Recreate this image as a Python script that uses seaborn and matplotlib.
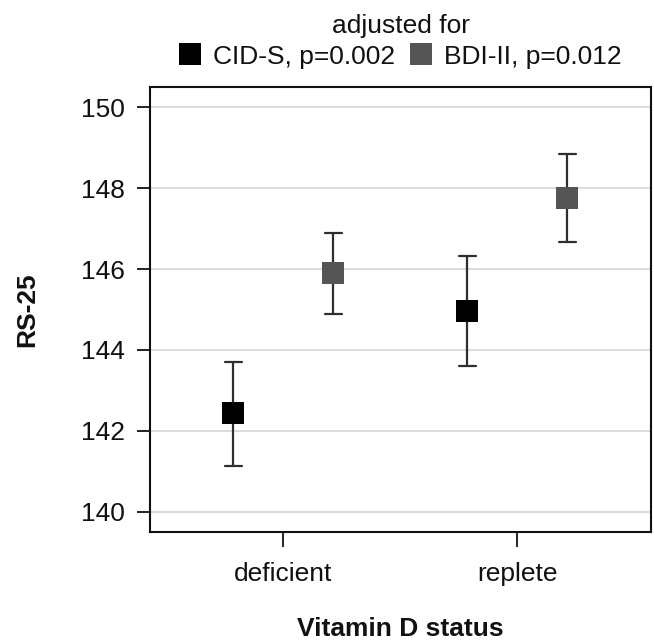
import numpy as np
import pandas as pd
import matplotlib
matplotlib.use("Agg")
import matplotlib.pyplot as plt
from matplotlib.lines import Line2D
import seaborn as sns

# ---- data ----
status = ["deficient", "replete"]
adjustments = ["CID-S, p=0.002", "BDI-II, p=0.012"]
cids_mean = [142.43, 144.96]
cids_low = [141.12, 143.60]
cids_high = [143.71, 146.32]
bdi_mean = [145.90, 147.75]
bdi_low = [144.88, 146.67]
bdi_high = [146.90, 148.84]
yticks = [140, 142, 144, 146, 148, 150]
colors = ["#000000", "#555555"]

# long table: lower / estimate / upper for each group; median = estimate, range = CI
rows = []
for adj, means, lows, highs in [(adjustments[0], cids_mean, cids_low, cids_high),
                                (adjustments[1], bdi_mean, bdi_low, bdi_high)]:
    for s, m, lo, hi in zip(status, means, lows, highs):
        for v in (lo, m, hi):
            rows.append({"Vitamin D status": s, "adjusted for": adj, "RS-25": v})
df = pd.DataFrame(rows)

sns.set_theme(style="white")
plt.rcParams["font.family"] = ["Liberation Sans", "DejaVu Sans"]

fig = plt.figure(figsize=(6.54, 6.42), dpi=100)
ax = fig.add_axes([150 / 654, 110 / 642, 501 / 654, 445 / 642])

sns.pointplot(
    data=df, x="Vitamin D status", y="RS-25", hue="adjusted for",
    order=status, hue_order=adjustments, palette=colors,
    estimator="median", errorbar=lambda v: (v.min(), v.max()),
    dodge=0.428, markers="s", linestyles="none", capsize=0.073,
    err_kws={"color": "#2e2e2e", "linewidth": 1.6, "zorder": 1.5},
    markersize=15.5, markeredgewidth=0, ax=ax, legend=False,
)

ax.set_xlim(-0.570, 1.572)
ax.set_ylim(139.5, 150.5)
ax.set_yticks(yticks)
ax.set_yticklabels([str(t) for t in yticks])
ax.yaxis.grid(True, color="#dcdcdc", linewidth=1.5)
ax.xaxis.grid(False)
ax.set_axisbelow(True)

for sp in ax.spines.values():
    sp.set_visible(True)
    sp.set_color("#111111")
    sp.set_linewidth(1.5)

ax.tick_params(axis="y", which="major", left=True, length=9.4, width=1.3,
               color="#111111", pad=8.6, labelsize=19, labelcolor="#111111")
ax.tick_params(axis="x", which="major", bottom=True, length=10.8, width=1.3,
               color="#111111", pad=11, labelsize=19, labelcolor="#111111")

ax.set_xlabel("Vitamin D status", fontsize=19, fontweight="bold", labelpad=22,
              color="#111111")
ax.set_ylabel("RS-25", fontsize=19, fontweight="bold", labelpad=30,
              color="#111111")

handles = [Line2D([], [], marker="s", linestyle="none", color=c, markersize=15.5,
                  markeredgewidth=0) for c in colors]
leg = ax.legend(handles, adjustments, title="adjusted for", ncol=2,
                loc="lower center", bbox_to_anchor=(0.5, 1.0), frameon=False,
                fontsize=19, title_fontsize=19, handlelength=0.8,
                handletextpad=0.45, columnspacing=0.6, borderaxespad=0.5,
                borderpad=0.2, labelspacing=0.25)
for t in leg.get_texts():
    t.set_color("#111111")
leg.get_title().set_color("#111111")

fig.savefig("out.png", dpi=100)
